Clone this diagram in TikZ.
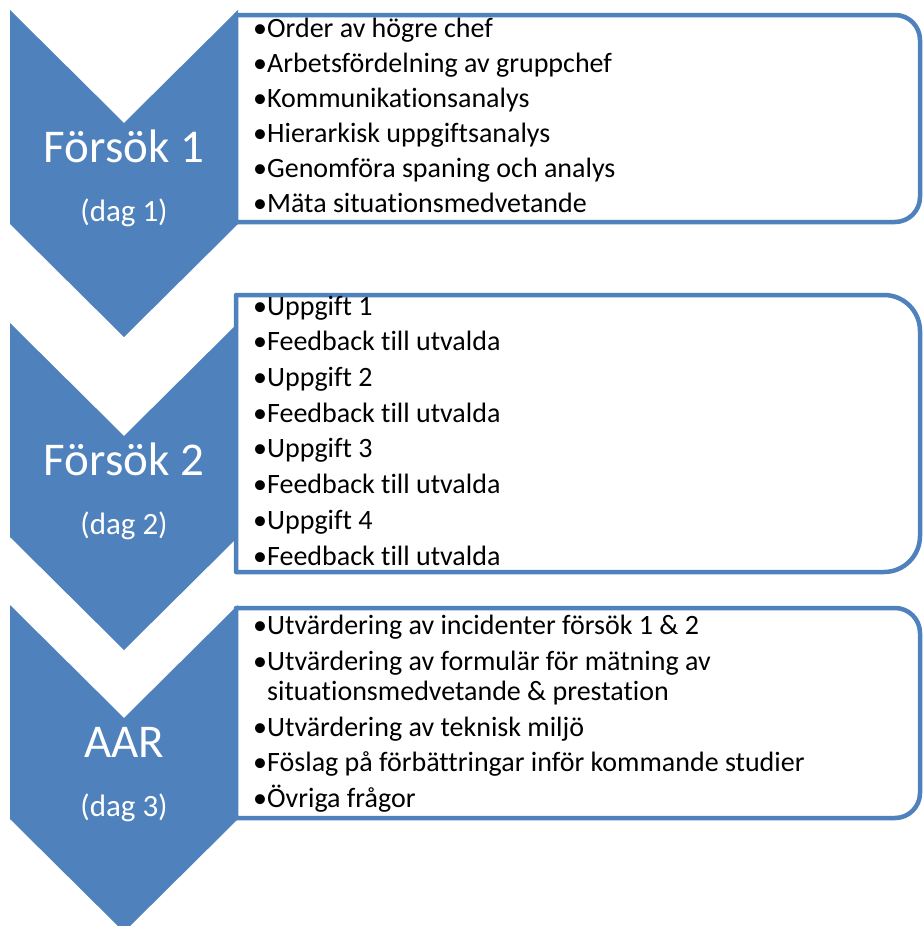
\documentclass[tikz,border=0pt]{standalone}
\usepackage{fontspec}
\setmainfont{Carlito}[Ligatures=NoCommon]
\usetikzlibrary{positioning}
\definecolor{smartblue}{RGB}{79,129,189}

\begin{document}
\begin{tikzpicture}[
  x=1pt, y=-1pt,
  chevron/.style={fill=smartblue},
  stepbox/.style={draw=smartblue, line width=4.5pt, fill=white, line join=round},
  phase/.style={anchor=base, text=white, inner sep=0pt, font=\fontsize{47}{50}\selectfont},
  day/.style={anchor=base, text=white, inner sep=0pt, font=\fontsize{31}{36}\selectfont},
  items/.style={anchor=base west, align=left, inner sep=0pt}
]
  \useasboundingbox (0,0) rectangle (922,926);

  % the three chevrons
  \foreach \t in {10,323,605}
    \fill[chevron] (10,\t) -- (124,\t+113) -- (238,\t) -- (238,\t+214)
      -- (124,\t+327) -- (10,\t+214) -- cycle;

  % boxes, square on the left and rounded on the right
  \foreach \t/\b/\r in {15/222/25, 295/572/36, 608/818/25}
    \draw[stepbox] (236,\t) -- (920-\r,\t) arc[start angle=90, end angle=0, radius=\r pt]
      -- (920,\b-\r) arc[start angle=0, end angle=-90, radius=\r pt] -- (236,\b) -- cycle;

  % phase labels
  \node[phase] (try1) at (124,162) {Försök 1};
  \node[day] (day1) at (124,221) {(dag 1)};
  \node[phase] (try2) at (124,475) {Försök 2};
  \node[day] (day2) at (124,534) {(dag 2)};
  \node[phase] (aar) at (124,757) {AAR};
  \node[day] (day3) at (124,816) {(dag 3)};

  % bullet lists (placed at the baseline of their last line)
  \node[items, font=\fontsize{28}{35}\selectfont] (list1) at (253,212) {%
    •Order av högre chef\\
    •Arbetsfördelning av gruppchef\\
    •Kommunikationsanalys\\
    •Hierarkisk uppgiftsanalys\\
    •Genomföra spaning och analys\\
    •Mäta situationsmedvetande};

  \node[items, font=\fontsize{28}{35.7}\selectfont] (list2) at (253,565) {%
    •Uppgift 1\\
    •Feedback till utvalda\\
    •Uppgift 2\\
    •Feedback till utvalda\\
    •Uppgift 3\\
    •Feedback till utvalda\\
    •Uppgift 4\\
    •Feedback till utvalda};

  \node[items, font=\fontsize{28}{30}\selectfont] (list3) at (253,807) {%
    •Utvärdering av incidenter försök 1 \& 2\\[5.5pt]
    •Utvärdering av formulär för mätning av\\
    \hphantom{•}situationsmedvetande \& prestation\\[6pt]
    •Utvärdering av teknisk miljö\\[5.5pt]
    •Föslag på förbättringar inför kommande studier\\[5.5pt]
    •Övriga frågor};
\end{tikzpicture}
\end{document}
